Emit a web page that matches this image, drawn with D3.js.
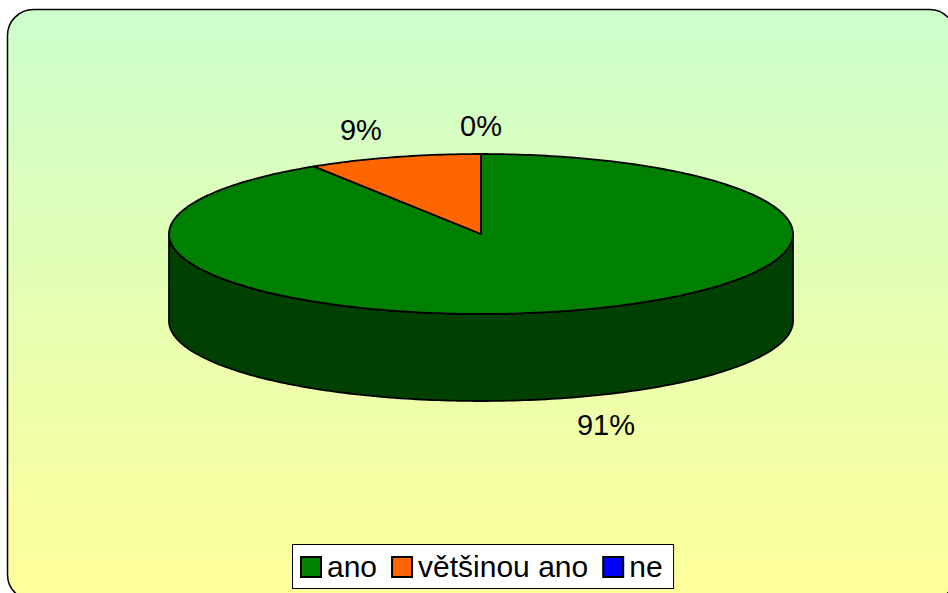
<!DOCTYPE html>
<html>
<head>
<meta charset="utf-8">
<script src="https://cdn.jsdelivr.net/npm/d3@7"></script>
<style>
  html, body { margin: 0; padding: 0; background: #ffffff; }
  svg { display: block; }
</style>
</head>
<body>
<svg id="chart" width="948" height="593"></svg>
<script>
const categories = ["ano", "většinou ano", "ne"];
const values = [91, 9, 0];
const labels = ["91%", "9%", "0%"];
const colors = ["#008000", "#FF6600", "#0000FF"];
const sideColors = ["#004000", "#803300", "#000080"];

const W = 948, H = 593;
const svg = d3.select("#chart");

// background
const defs = svg.append("defs");
const grad = defs.append("linearGradient").attr("id", "bg").attr("x1", 0).attr("y1", 0).attr("x2", 0).attr("y2", 1);
grad.append("stop").attr("offset", "0%").attr("stop-color", "#CCFFCC");
grad.append("stop").attr("offset", "100%").attr("stop-color", "#FFFF99");

svg.append("rect")
  .attr("x", 7.5).attr("y", 9.5)
  .attr("width", 948).attr("height", 591)
  .attr("rx", 26).attr("ry", 26)
  .attr("fill", "url(#bg)")
  .attr("stroke", "#000").attr("stroke-width", 1.5);

// pie geometry
const cx = 481, cy = 234, rx = 312, ry = 80, depth = 87;
const pie = d3.pie().sort(null).value(d => d).startAngle(0).endAngle(2 * Math.PI);
const arcs = pie(values);

const px = a => cx + rx * Math.sin(a);
const py = a => cy - ry * Math.cos(a);

function arcPoints(a0, a1) {
  const steps = Math.max(2, Math.ceil(Math.abs(a1 - a0) / (Math.PI / 180)) + 1);
  return d3.range(steps).map(i => {
    const a = a0 + (a1 - a0) * i / (steps - 1);
    return [px(a), py(a)];
  });
}

const line = d3.line();
const g = svg.append("g");

// side walls (front half: angles between PI/2 and 3PI/2)
arcs.forEach((d, i) => {
  const a0 = Math.max(d.startAngle, Math.PI / 2);
  const a1 = Math.min(d.endAngle, 3 * Math.PI / 2);
  if (a1 - a0 <= 0) return;
  const top = arcPoints(a0, a1);
  const bottom = top.slice().reverse().map(p => [p[0], p[1] + depth]);
  g.append("path")
    .attr("d", line(top.concat(bottom)) + "Z")
    .attr("fill", sideColors[i])
    .attr("stroke", "#000").attr("stroke-width", 1.8)
    .attr("stroke-linejoin", "round");
});

// top faces
arcs.forEach((d, i) => {
  if (d.endAngle - d.startAngle <= 0) return;
  const pts = [[cx, cy]].concat(arcPoints(d.startAngle, d.endAngle));
  g.append("path")
    .attr("d", line(pts) + "Z")
    .attr("fill", colors[i])
    .attr("stroke", "#000").attr("stroke-width", 1.8)
    .attr("stroke-linejoin", "round");
});

// labels
const lrx = rx * 1.38, lry = ry + 28;
arcs.forEach((d, i) => {
  const a = (d.startAngle + d.endAngle) / 2;
  const front = Math.cos(a) < 0;
  const x = cx + lrx * (front ? 1.04 : 1) * Math.sin(a);
  let y = cy - lry * Math.cos(a);
  if (front) y += depth;
  svg.append("text")
    .attr("x", x).attr("y", y + 10)
    .attr("text-anchor", "middle")
    .attr("font-family", "Liberation Sans, Arial, sans-serif")
    .attr("font-size", 29)
    .attr("fill", "#000")
    .text(labels[i]);
});

// legend
const lg = svg.append("g");
const legendBox = lg.append("rect")
  .attr("fill", "#fff").attr("stroke", "#000").attr("stroke-width", 1);
let xCur = 301;
const sw = 20, swY = 557, baseY = 577;
const entries = lg.selectAll("g.entry").data(categories).join("g").attr("class", "entry");
entries.each(function(c, i) {
  const e = d3.select(this);
  e.append("rect")
    .attr("x", xCur).attr("y", swY).attr("width", sw).attr("height", sw)
    .attr("fill", colors[i]).attr("stroke", "#000").attr("stroke-width", 2);
  const t = e.append("text")
    .attr("x", xCur + sw + 6).attr("y", baseY)
    .attr("font-family", "Liberation Sans, Arial, sans-serif")
    .attr("font-size", 30)
    .attr("fill", "#000")
    .text(c);
  const w = t.node().getComputedTextLength();
  xCur = xCur + sw + 6 + w + (i < categories.length - 1 ? 15 : 0);
});
legendBox.attr("x", 292.5).attr("y", 544.5).attr("width", xCur + 11 - 292.5).attr("height", 44);
</script>
</body>
</html>
